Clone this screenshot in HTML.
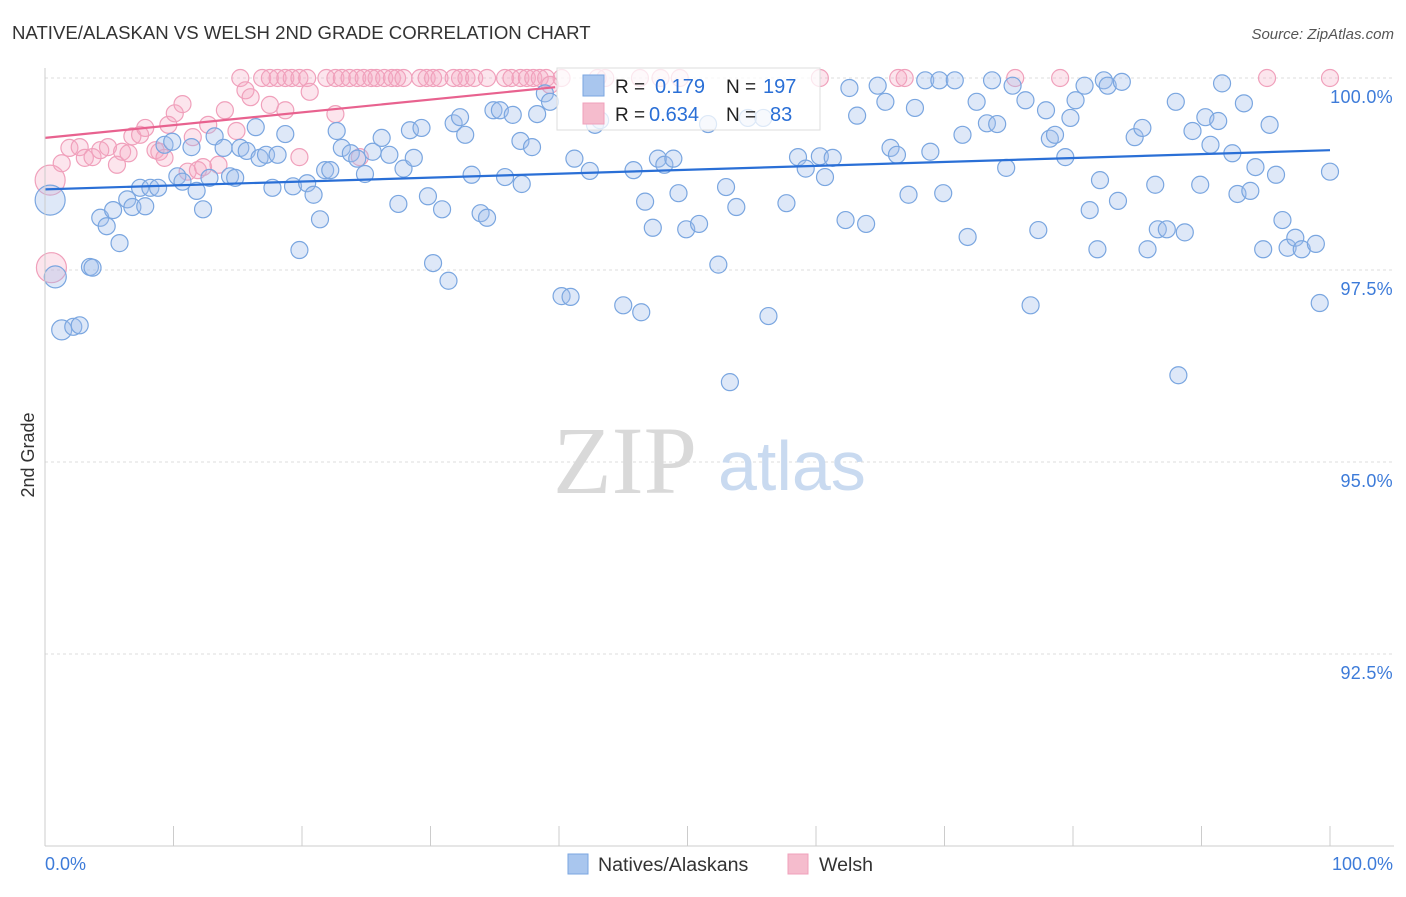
<!DOCTYPE html>
<html><head><meta charset="utf-8">
<style>
body{margin:0;background:#fff;font-family:"Liberation Sans",sans-serif;}
svg text{font-family:"Liberation Sans",sans-serif;}
</style></head>
<body>
<svg id="chart" width="1406" height="892" viewBox="0 0 1406 892">
<text x="12" y="39" font-size="18.6" fill="#333">NATIVE/ALASKAN VS WELSH 2ND GRADE CORRELATION CHART</text>
<text x="1394" y="39" font-size="15" fill="#555" text-anchor="end" font-style="italic">Source: ZipAtlas.com</text>
<g id="grid"></g>
<g>
<text x="553" y="493" font-size="96" fill="#d9d9d9" style="font-family:'Liberation Serif',serif">ZIP</text>
<text x="718" y="490" font-size="70" fill="#c9daf0">atlas</text>
</g>
<g id="pts"></g>
<g id="axes"></g>
<text transform="translate(34,455) rotate(-90)" font-size="18" fill="#333" text-anchor="middle">2nd Grade</text>
<g>
<rect x="557" y="68" width="263" height="62" fill="#fff" fill-opacity="0.75" stroke="#ddd"/>
<rect x="583" y="75" width="21" height="21" fill="#a9c6ee" stroke="#7aa6e0"/>
<rect x="583" y="103" width="21" height="21" fill="#f5bccd" stroke="#f0a0bb"/>
<text x="615" y="93" font-size="19" fill="#222">R = </text><text x="655" y="93" font-size="20" fill="#2a6fd6">0.179</text>
<text x="726" y="93" font-size="19" fill="#222">N = </text><text x="763" y="93" font-size="20" fill="#2a6fd6">197</text>
<text x="615" y="121" font-size="19" fill="#222">R = </text><text x="649" y="121" font-size="20" fill="#2a6fd6">0.634</text>
<text x="726" y="121" font-size="19" fill="#222">N = </text><text x="770" y="121" font-size="20" fill="#2a6fd6">83</text>
</g>
<g>
<rect x="568" y="854" width="20" height="20" fill="#a9c6ee" stroke="#7aa6e0"/>
<text x="598" y="871" font-size="19.6" fill="#333">Natives/Alaskans</text>
<rect x="788" y="854" width="20" height="20" fill="#f5bccd" stroke="#f0a0bb"/>
<text x="819" y="871" font-size="19.6" fill="#333">Welsh</text>
</g>
</svg>
<script>
const yTicks=[100,97.5,95,92.5];
const yTickLabels=["100.0%","97.5%","95.0%","92.5%"];
const xTicks=[0,10,20,30,40,50,60,70,80,90,100];
const xTickLabels=["0.0%","100.0%"];
const blueX=[0.4,0.8,1.3,2.2,2.7,3.5,3.7,4.3,4.8,5.3,5.8,6.4,6.8,7.4,7.8,8.2,8.8,9.3,9.9,10.3,10.7,11.4,11.8,12.3,12.8,13.2,13.9,14.4,14.8,15.2,15.7,16.4,16.7,17.2,17.7,18.1,18.7,19.3,19.8,20.4,20.9,21.4,21.8,22.2,22.7,23.1,23.8,24.3,24.9,25.5,26.2,26.8,27.5,27.9,28.4,28.7,29.3,29.8,30.2,30.9,31.4,31.8,32.3,32.7,33.2,33.9,34.4,34.9,35.4,35.8,36.4,37.0,37.1,37.9,38.3,38.9,39.3,40.2,40.9,41.2,42.4,42.8,43.2,45.0,45.8,46.4,46.7,47.3,47.7,48.2,48.9,49.3,49.9,50.9,51.6,52.4,53.0,53.3,53.8,54.7,55.9,56.3,57.7,58.6,59.2,60.3,60.7,61.3,62.3,62.6,63.2,63.9,64.8,65.4,65.8,66.3,67.2,67.7,68.5,68.9,69.6,69.9,70.8,71.4,71.8,72.5,73.3,73.7,74.1,74.8,75.3,76.3,76.7,77.3,77.9,78.2,78.6,79.4,79.8,80.2,80.9,81.3,81.9,82.1,82.4,82.7,83.5,83.8,84.8,85.4,85.8,86.4,86.6,87.3,88.0,88.2,88.7,89.3,89.9,90.3,90.7,91.3,91.6,92.4,92.8,93.3,93.8,94.2,94.8,95.3,95.8,96.3,96.7,97.3,97.8,98.9,99.2,100.0];
const blueY=[98.41,97.41,96.72,96.76,96.78,97.54,97.53,98.18,98.07,98.28,97.85,98.42,98.32,98.57,98.33,98.57,98.57,99.13,99.17,98.72,98.65,99.1,98.53,98.29,98.7,99.24,99.09,98.72,98.7,99.09,99.05,99.36,98.96,99.0,98.57,99.0,99.27,98.59,97.76,98.63,98.48,98.16,98.8,98.8,99.31,99.09,99.02,98.95,98.75,99.04,99.22,99.0,98.36,98.82,99.32,98.96,99.35,98.46,97.59,98.29,97.36,99.41,99.49,99.26,98.74,98.24,98.18,99.58,99.58,98.71,99.52,99.18,98.62,99.1,99.53,99.8,99.69,97.16,97.15,98.95,98.79,99.39,99.45,97.04,98.8,96.95,98.39,98.05,98.95,98.87,98.95,98.5,98.03,98.1,99.4,97.57,98.58,96.04,98.32,99.48,99.48,96.9,98.37,98.97,98.82,98.98,98.71,98.96,98.15,99.87,99.51,98.1,99.9,99.69,99.09,99.0,98.48,99.61,99.97,99.04,99.97,98.5,99.97,99.26,97.93,99.69,99.41,99.97,99.4,98.83,99.9,99.71,97.04,98.02,99.58,99.21,99.26,98.97,99.48,99.71,99.9,98.28,97.77,98.67,99.97,99.9,98.4,99.95,99.23,99.35,97.77,98.61,98.03,98.03,99.69,96.13,97.99,99.31,98.61,99.49,99.13,99.44,99.93,99.02,98.49,99.67,98.53,98.84,97.77,99.39,98.74,98.15,97.79,97.92,97.77,97.84,97.07,98.78];
const blueWeight=[4,3,2];
const pinkX=[15.2,16.9,17.5,18.1,18.7,19.2,19.8,20.4,21.9,22.6,23.1,23.7,24.3,24.8,25.4,25.8,26.4,27.0,27.4,27.9,29.2,29.7,30.2,30.7,31.8,32.3,32.8,33.4,34.4,35.8,36.3,37.0,37.5,38.0,38.5,39.0,40.2,43.0,43.6,46.3,47.9,49.4,60.3,66.4,66.9,75.5,79.0,95.1,100,0.4,0.5,1.3,1.9,2.7,3.1,3.7,4.3,4.9,5.6,6.0,6.5,6.8,7.4,7.8,8.6,8.9,9.3,9.6,10.1,10.7,11.1,11.5,11.9,12.3,12.7,13.5,14.0,14.9,15.6,16.0,17.5,18.7,19.8,20.6,22.6,24.5,39.3];
const pinkY=[100,100,100,100,100,100,100,100,100,100,100,100,100,100,100,100,100,100,100,100,100,100,100,100,100,100,100,100,100,100,100,100,100,100,100,100,100,100,100,100,100,100,100,100,100,100,100,100,100,98.67,97.53,98.89,99.09,99.1,98.96,98.97,99.06,99.1,98.87,99.04,99.02,99.24,99.26,99.35,99.06,99.04,98.96,99.39,99.54,99.66,98.78,99.23,98.8,98.84,99.39,98.87,99.58,99.31,99.84,99.75,99.65,99.58,98.97,99.82,99.53,98.97,99.91];
const blueTrend=[[0,98.55],[100,99.06]];
const pinkTrend=[[0,99.22],[39.7,99.88]];

const X0=45,X1=1330,Y100=78,PX_PER_PCT=76.8;
function sx(v){return X0+(v/100)*(X1-X0);}
function sy(v){return Y100+(100-v)*PX_PER_PCT;}
const NS="http://www.w3.org/2000/svg";
function mk(tag,attrs,parent){const e=document.createElementNS(NS,tag);for(const k in attrs)e.setAttribute(k,attrs[k]);parent.appendChild(e);return e;}
const grid=document.getElementById('grid'),axes=document.getElementById('axes'),pts=document.getElementById('pts');
yTicks.forEach((t,i)=>{
  const l=mk('line',{x1:X0,x2:1394,y1:sy(t),y2:sy(t),stroke:'#ddd','stroke-dasharray':'3,3'},grid);
  
  
  const tx=mk('text',{x:1393,y:sy(t)+25,'font-size':18,fill:'#3d7bd9','text-anchor':'end','letter-spacing':'0.3'},axes);
  tx.textContent=yTickLabels[i];
  
  
});
const ax=mk('line',{x1:X0,x2:X0,y1:68,y2:846,stroke:'#ccc'},axes);


const bx=mk('line',{x1:X0,x2:1394,y1:846,y2:846,stroke:'#ccc'},axes);


xTicks.forEach(t=>{
  const l=mk('line',{x1:sx(t),x2:sx(t),y1:826,y2:846,stroke:'#ccc'},axes);
  
  
});
const xl0=mk('text',{x:45,y:870,'font-size':18,fill:'#3d7bd9'},axes);xl0.textContent=xTickLabels[0];


const xl1=mk('text',{x:1393,y:870,'font-size':18,fill:'#3d7bd9','text-anchor':'end'},axes);xl1.textContent=xTickLabels[1];



pinkX.forEach((x,i)=>{
  const r=i===49||i===50?15:8.5;
  const c=mk('circle',{cx:sx(x),cy:sy(pinkY[i]),r:r,fill:'rgba(245,170,195,0.3)',stroke:'#f0a0bb','stroke-width':1.2},pts);
  
  
});
blueX.forEach((x,i)=>{
  const w=blueWeight[i]||1;
  const r=w>=4?15:(w>=3?11:(w>=2?10:8.5));
  const c=mk('circle',{cx:sx(x),cy:sy(blueY[i]),r:r,fill:'rgba(160,190,235,0.35)',stroke:'#7aa6e0','stroke-width':1.2},pts);
  
  
});
const bl=mk('line',{x1:sx(blueTrend[0][0]),y1:sy(blueTrend[0][1]),x2:sx(blueTrend[1][0]),y2:sy(blueTrend[1][1]),stroke:'#2a6fd6','stroke-width':2.2},pts);


const pl=mk('line',{x1:sx(pinkTrend[0][0]),y1:sy(pinkTrend[0][1]),x2:sx(pinkTrend[1][0]),y2:sy(pinkTrend[1][1]),stroke:'#e8628f','stroke-width':2.2},pts);


</script>
</body></html>
